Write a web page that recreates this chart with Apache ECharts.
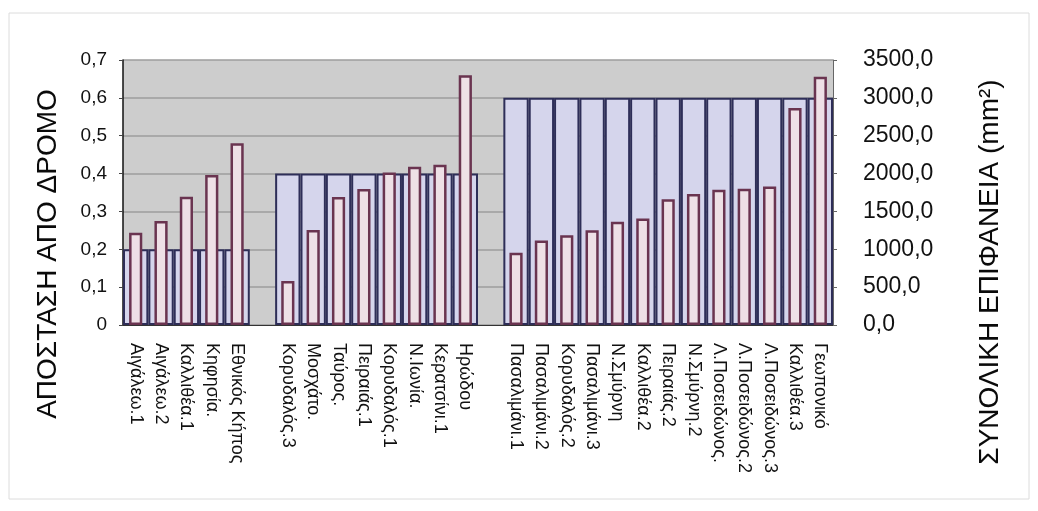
<!DOCTYPE html>
<html>
<head>
<meta charset="utf-8">
<script src="https://cdn.jsdelivr.net/npm/echarts@6/dist/echarts.min.js"></script>
<style>
  html, body { margin: 0; padding: 0; background: #ffffff; }
  #chart { width: 1038px; height: 511px; }
</style>
</head>
<body>
<div id="chart"></div>
<script>
// Sampling sites; empty entries separate the three distance groups
const categories = [
  'Αιγάλεω.1', 'Αιγάλεω.2', 'Καλλιθέα.1', 'Κηφησία.', 'Εθνικός Κήπος',
  '',
  'Κορυδαλός.3', 'Μοσχάτο.', 'Ταύρος.', 'Πειραιάς.1', 'Κορυδαλός.1', 'Ν.Ιωνία.', 'Κερατσίνι.1', 'Ηρώδου',
  '',
  'Πασαλιμάνι.1', 'Πασαλιμάνι.2', 'Κορυδαλός.2', 'Πασαλιμάνι.3', 'Ν.Σμύρνη', 'Καλλιθέα.2', 'Πειραιάς.2',
  'Ν.Σμύρνη.2', 'Λ.Ποσειδώνος.', 'Λ.Ποσειδώνος.2', 'Λ.Ποσειδώνος.3', 'Καλλιθέα.3', 'Γεωπονικό'
];

// Distance from the road (left axis)
const distance = [
  0.2, 0.2, 0.2, 0.2, 0.2,
  null,
  0.4, 0.4, 0.4, 0.4, 0.4, 0.4, 0.4, 0.4,
  null,
  0.6, 0.6, 0.6, 0.6, 0.6, 0.6, 0.6, 0.6, 0.6, 0.6, 0.6, 0.6, 0.6
];

// Total surface area in mm² (right axis)
const surface = [
  1220, 1375, 1695, 1980, 2400,
  null,
  580, 1255, 1690, 1795, 2015, 2090, 2115, 3300,
  null,
  955, 1115, 1185, 1250, 1365, 1405, 1660, 1730, 1785, 1800, 1830, 2865, 3280
];

const leftTicks = { min: 0, max: 0.7, step: 0.1 };
const rightTicks = { min: 0, max: 3500, step: 500 };

const leftTitle = 'ΑΠΟΣΤΑΣΗ ΑΠΟ ΔΡΟΜΟ';
const rightTitle = 'ΣΥΝΟΛΙΚΗ ΕΠΙΦΑΝΕΙΑ (mm²)';

const FONT = '"Liberation Sans", Arial, sans-serif';
const commaDec = (v) => v.toFixed(1).replace('.', ',');

const chart = echarts.init(document.getElementById('chart'), null, { renderer: 'canvas' });

chart.setOption({
  animation: false,
  backgroundColor: '#ffffff',
  grid: {
    left: 123, right: 205, top: 60, bottom: 186,
    show: true, backgroundColor: '#cdcdcd', borderWidth: 0
  },
  xAxis: [
    {
      type: 'category',
      data: categories,
      axisLine: { show: true, lineStyle: { color: '#333', width: 1 } },
      axisTick: { show: false },
      axisLabel: {
        interval: 0, rotate: -90, margin: 18,
        fontFamily: FONT, fontSize: 18, color: '#111'
      },
      splitLine: { show: false }
    },
    {
      type: 'category',
      data: categories,
      show: false
    }
  ],
  yAxis: [
    {
      type: 'value',
      min: leftTicks.min, max: leftTicks.max, interval: leftTicks.step,
      axisLine: { show: true, lineStyle: { color: '#111', width: 1.5 } },
      axisTick: { show: true, length: 4, lineStyle: { color: '#444' } },
      axisLabel: {
        margin: 16, fontFamily: FONT, fontSize: 19, color: '#111',
        formatter: (v) => (v === 0 ? '0' : commaDec(v))
      },
      splitLine: { show: true, lineStyle: { color: '#9c9c9c', width: 1.5 } }
    },
    {
      type: 'value',
      position: 'right',
      min: rightTicks.min, max: rightTicks.max, interval: rightTicks.step,
      axisLine: { show: true, lineStyle: { color: '#666', width: 1 } },
      axisTick: { show: true, length: 4, inside: false, lineStyle: { color: '#666' } },
      axisLabel: {
        margin: 30, fontFamily: FONT, fontSize: 23, color: '#111',
        formatter: (v) => commaDec(v)
      },
      splitLine: { show: false }
    }
  ],
  series: [
    {
      name: leftTitle,
      type: 'bar',
      xAxisIndex: 0,
      yAxisIndex: 0,
      data: distance,
      barWidth: '100%',
      itemStyle: { color: '#d5d5ec', borderColor: '#2e2e58', borderWidth: 2 },
      z: 2
    },
    {
      name: rightTitle,
      type: 'bar',
      xAxisIndex: 1,
      yAxisIndex: 1,
      data: surface,
      barWidth: '52%',
      itemStyle: { color: '#eee0e6', borderColor: '#6a3450', borderWidth: 2.5 },
      z: 3
    }
  ],
  graphic: [
    {
      type: 'rect',
      shape: { x: 9, y: 13, width: 1020, height: 486 },
      style: { fill: 'none', stroke: '#dcdcdc', lineWidth: 1 },
      z: -1
    },
    {
      type: 'text',
      x: 48, y: 254,
      rotation: Math.PI / 2,
      style: {
        text: leftTitle, fontFamily: FONT, fontSize: 28, fill: '#0a0a0a',
        align: 'center', verticalAlign: 'middle'
      }
    },
    {
      type: 'text',
      x: 990, y: 272,
      rotation: Math.PI / 2,
      style: {
        text: rightTitle, fontFamily: FONT, fontSize: 28, fill: '#0a0a0a',
        align: 'center', verticalAlign: 'middle'
      }
    }
  ]
});
</script>
</body>
</html>
